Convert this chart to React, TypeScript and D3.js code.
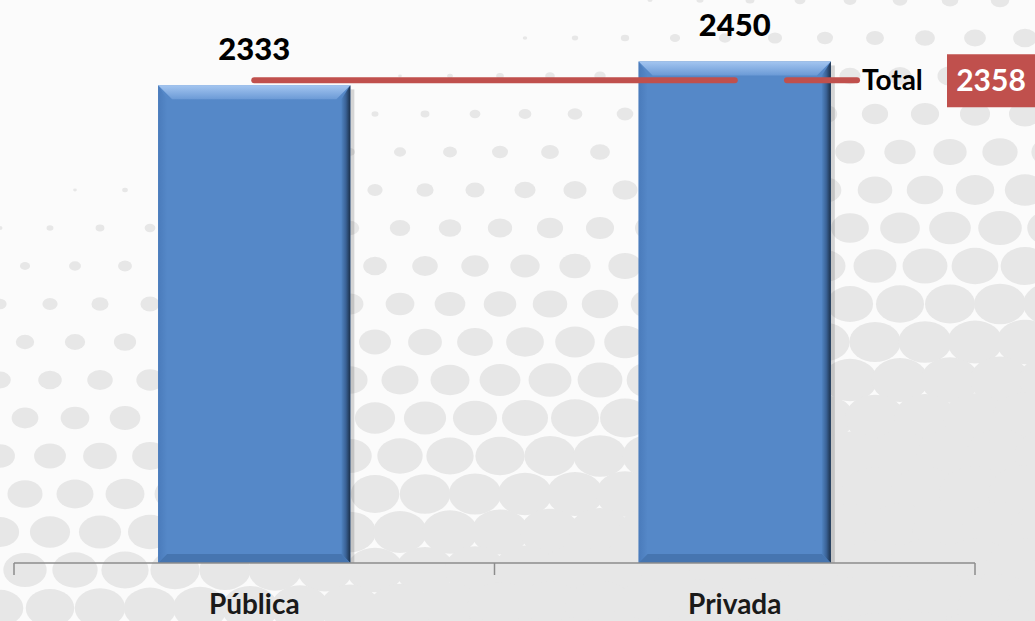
import React from 'react';
import * as d3 from 'd3';

const categories = ['Pública', 'Privada'];
const values = [2333, 2450];
const totalName = 'Total';
const totalValue = 2358;
const yMax = 2750;

const W = 1035;
const H = 621;

function Background() {
  // halftone dots, growing toward the bottom right
  const dx = 50;
  const dy = 38;
  const dots: { x: number; y: number; r: number }[] = [];
  d3.range(-1, Math.ceil(H / dy) + 2).forEach((row) => {
    d3.range(-1, Math.ceil(W / dx) + 2).forEach((col) => {
      const x = col * dx + (row % 2 ? dx / 2 : 0);
      const y = row * dy;
      const t = 0.5 * (x / W) + 0.85 * (y / H) - 0.25;
      if (t > 0.04) dots.push({ x, y, r: t * 40 });
    });
  });
  return (
    <g>
      <rect width={W} height={H} fill="#fbfbfb" />
      {dots.map((d, i) => (
        <ellipse key={i} cx={d.x} cy={d.y} rx={d.r} ry={d.r * 0.78} fill="#e7e7e7" />
      ))}
    </g>
  );
}

function Bar({ x, y, w, h }: { x: number; y: number; w: number; h: number }) {
  const b = 14;
  const s = 9;
  const x1 = x + w;
  const y1 = y + h;
  return (
    <g>
      <rect x={x1} y={y + 4} width={4} height={h - 4} fill="#000" opacity={0.15} />
      <rect x={x} y={y} width={w} height={h} fill="#5588c8" />
      <polygon points={`${x},${y} ${x1},${y} ${x1 - b},${y + b} ${x + b},${y + b}`} fill="url(#bevTop)" />
      <polygon points={`${x},${y} ${x + s},${y + b} ${x + s},${y1 - s} ${x},${y1}`} fill="url(#bevLeft)" />
      <polygon points={`${x1},${y} ${x1},${y1} ${x1 - s},${y1 - s} ${x1 - s},${y + b}`} fill="url(#bevRight)" />
      <polygon points={`${x},${y1} ${x1},${y1} ${x1 - s},${y1 - s} ${x + s},${y1 - s}`} fill="#4675b0" />
    </g>
  );
}

export default function App() {
  const axisY = 563;
  const x = d3.scaleBand<string>().domain(categories).range([14, 975]).padding(0);
  const y = d3.scaleLinear().domain([0, yMax]).range([axisY, 0]);
  const bw = x.bandwidth() * 0.4;
  const cx = (c: string) => (x(c) ?? 0) + x.bandwidth() / 2;
  const ty = y(totalValue);
  const line = d3.line<string>().x((c) => cx(c)).y(() => ty);
  const font = 'Lato, "Open Sans", sans-serif';

  return (
    <svg width={W} height={H} style={{ position: 'fixed', left: 0, top: 0, display: 'block' }}>
      <defs>
        <linearGradient id="bevTop" x1="0" y1="0" x2="0" y2="1">
          <stop offset="0" stopColor="#a3c5f0" />
          <stop offset="1" stopColor="#6b9ad6" />
        </linearGradient>
        <linearGradient id="bevLeft" x1="0" y1="0" x2="1" y2="0">
          <stop offset="0" stopColor="#4a7bbb" />
          <stop offset="1" stopColor="#5588c8" />
        </linearGradient>
        <linearGradient id="bevRight" x1="0" y1="0" x2="1" y2="0">
          <stop offset="0" stopColor="#5084c2" />
          <stop offset="0.5" stopColor="#3a6296" />
          <stop offset="1" stopColor="#1b2f48" />
        </linearGradient>
      </defs>
      <Background />

      {categories.map((c, i) => (
        <g key={c}>
          <Bar x={cx(c) - bw / 2} y={y(values[i])} w={bw} h={axisY - y(values[i])} />
          <text x={cx(c)} y={y(values[i]) - 25} textAnchor="middle" fontFamily={font} fontWeight="900" fontSize={31} fill="#000">
            {values[i]}
          </text>
          <text x={cx(c)} y={614} textAnchor="middle" fontFamily={font} fontWeight="bold" fontSize={28} fill="#1a1a1a">
            {c}
          </text>
        </g>
      ))}

      {/* category axis */}
      <line x1={14} x2={975} y1={axisY} y2={axisY} stroke="#8c8c8c" strokeWidth={1.5} />
      {[...categories.map((c) => x(c) ?? 0), 975].map((t, i) => (
        <line key={i} x1={t} x2={t} y1={axisY} y2={axisY + 12} stroke="#8c8c8c" strokeWidth={1.5} />
      ))}

      {/* total line */}
      <path d={line(categories) ?? ''} stroke="#c0504d" strokeWidth={6} strokeLinecap="round" fill="none" />
      <line x1={787} x2={857} y1={ty} y2={ty} stroke="#c0504d" strokeWidth={6} strokeLinecap="round" />
      <text x={862} y={ty + 10} fontFamily={font} fontWeight="bold" fontSize={28} fill="#000">
        {totalName}
      </text>
      <rect x={947} y={ty - 26} width={92} height={53} fill="#c0504d" />
      <text x={991} y={ty + 11} textAnchor="middle" fontFamily={font} fontWeight="bold" fontSize={30} fill="#fff">
        {totalValue}
      </text>
    </svg>
  );
}
